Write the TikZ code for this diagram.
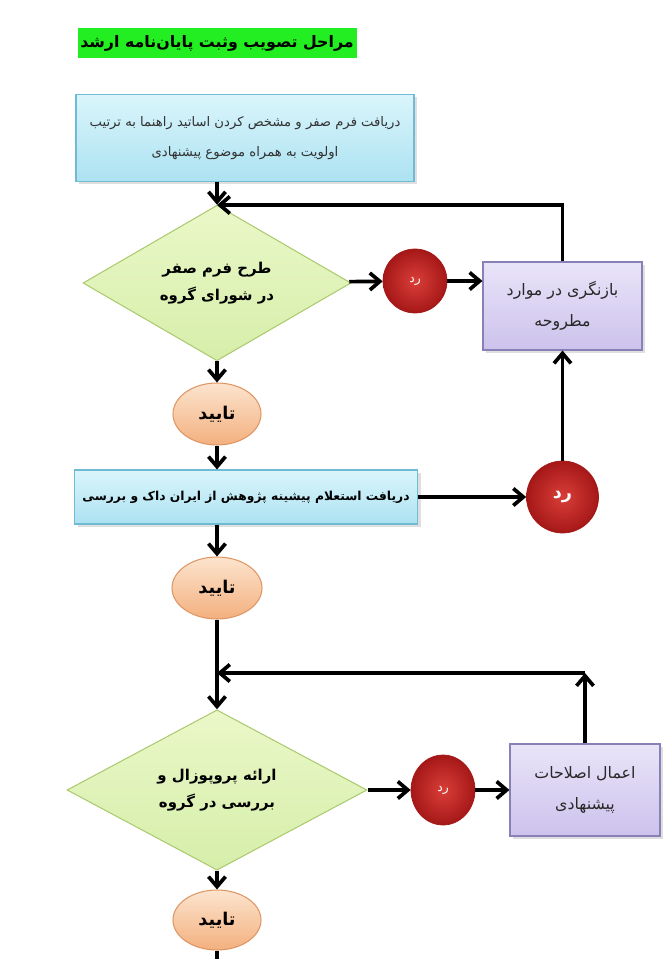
\documentclass[tikz,border=0pt]{standalone}
\usepackage{fontspec}
\newfontfamily\fa[Script=Arabic]{DejaVu Sans}
\TeXXeTstate=1
\usepackage{tikz}
\usetikzlibrary{shapes.geometric}
\usetikzlibrary{arrows.meta}
\usetikzlibrary{shadows}
\newcommand{\fatext}[1]{\beginR#1\endR}
\definecolor{titlegreen}{RGB}{34,238,34}
\definecolor{boxtop}{RGB}{218,245,251}
\definecolor{boxbottom}{RGB}{172,226,242}
\definecolor{boxline}{RGB}{112,186,212}
\definecolor{checktop}{RGB}{234,248,200}
\definecolor{checkbottom}{RGB}{214,238,170}
\definecolor{checkline}{RGB}{172,202,112}
\definecolor{rejectin}{RGB}{218,62,56}
\definecolor{rejectout}{RGB}{165,24,24}
\definecolor{accepttop}{RGB}{252,228,206}
\definecolor{acceptbottom}{RGB}{243,176,126}
\definecolor{acceptline}{RGB}{222,150,100}
\definecolor{revisetop}{RGB}{234,228,249}
\definecolor{revisebottom}{RGB}{204,194,236}
\definecolor{reviseline}{RGB}{138,128,184}
\tikzset{my_flow/.style={->,>={Straight Barb[length=2mm,width=3.4mm]},line width=2.1pt}}
\tikzset{my_shadow/.style={drop shadow={opacity=0.25,shadow xshift=0.6mm,shadow yshift=-0.6mm}}}
\tikzset{my_title/.style={rectangle, fill=titlegreen, inner sep=0pt, minimum width=5.58cm, minimum height=0.6cm, font=\fa\bfseries\fontsize{9}{11}\selectfont}}
\tikzset{my_box/.style={rectangle, draw=boxline, line width=0.6pt, top color=boxtop, bottom color=boxbottom, my_shadow, inner sep=0pt, align=center}}
\tikzset{my_check/.style={diamond, draw=checkline, line width=0.6pt, top color=checktop, bottom color=checkbottom, inner sep=0pt, align=center, font=\fa\bfseries\fontsize{8.5}{15}\selectfont}}
\tikzset{my_reject/.style={ellipse, shading=radial, inner color=rejectin, outer color=rejectout, draw=rejectout, line width=0.4pt, inner sep=0pt, text=white}}
\tikzset{my_accept/.style={ellipse, draw=acceptline, line width=0.6pt, top color=accepttop, bottom color=acceptbottom, inner sep=0pt, minimum width=1.76cm, minimum height=1.24cm, font=\fa\bfseries\fontsize{10}{12}\selectfont}}
\tikzset{my_revise/.style={rectangle, draw=reviseline, line width=0.6pt, top color=revisetop, bottom color=revisebottom, my_shadow, inner sep=0pt, align=center, text={rgb,255:red,40;green,40;blue,40}, font=\fa\fontsize{9}{18}\selectfont}}

\begin{document}
\begin{tikzpicture}[my_flow]
    \useasboundingbox (0,0) rectangle (13.24,-19.18);
    \node[my_title] (title) at (4.34,-0.86) {\fatext{مراحل تصویب وثبت پایان‌نامه ارشد}};

    % first step
    \node[my_box, minimum width=6.76cm, minimum height=1.74cm, text={rgb,255:red,50;green,50;blue,50}, font=\fa\fontsize{7.5}{17}\selectfont] (receive) at (4.90,-2.76)
        {\fatext{دریافت فرم صفر و مشخص کردن اساتید راهنما به ترتیب}\\\fatext{اولویت به همراه موضوع پیشنهادی}};
    \node[my_check, minimum width=5.36cm, minimum height=2.68cm] (council) at (4.34,-5.66)
        {\fatext{طرح فرم صفر}\\\fatext{در شورای گروه}};
    \node[my_reject, minimum width=1.28cm, minimum height=1.28cm, font=\fa\fontsize{7}{9}\selectfont] (reject1) at (8.30,-5.62) {\fatext{رد}};
    \node[my_revise, minimum width=3.18cm, minimum height=1.76cm] (review) at (11.25,-6.12)
        {\fatext{بازنگری در موارد}\\\fatext{مطروحه}};
    \node[my_accept] (accept1) at (4.34,-8.28) {\fatext{تایید}};
    \coordinate (back1) at (4.34,-4.10);

    % second step
    \node[my_box, minimum width=6.86cm, minimum height=1.08cm, font=\fa\bfseries\fontsize{7}{9}\selectfont] (irandoc) at (4.92,-9.94)
        {\fatext{دریافت استعلام پیشینه پژوهش از ایران داک و بررسی}};
    \node[my_reject, minimum width=1.44cm, minimum height=1.44cm, font=\fa\bfseries\fontsize{10}{12}\selectfont] (reject2) at (11.25,-9.94) {\fatext{رد}};
    \node[my_accept, minimum width=1.8cm] (accept2) at (4.34,-11.76) {\fatext{تایید}};

    % third step
    \coordinate (back2) at (4.34,-13.46);
    \node[my_check, minimum width=6.0cm, minimum height=3.2cm] (proposal) at (4.34,-15.80)
        {\fatext{ارائه پروپوزال و}\\\fatext{بررسی در گروه}};
    \node[my_reject, minimum width=1.28cm, minimum height=1.40cm, font=\fa\fontsize{7}{9}\selectfont] (reject3) at (8.86,-15.80) {\fatext{رد}};
    \node[my_revise, minimum width=3.0cm, minimum height=1.84cm] (amend) at (11.70,-15.80)
        {\fatext{اعمال اصلاحات}\\\fatext{پیشنهادی}};
    \node[my_accept, minimum height=1.2cm] (accept3) at (4.34,-18.40) {\fatext{تایید}};
    \coordinate (bottom) at (4.34,-19.18);

    \path
        (receive.south -| council.north) edge (council.north)
        (council) edge (reject1)
        (reject1) edge (reject1 -| review.west)
        (council) edge (accept1)
        (accept1.south) edge (accept1.south |- irandoc.north)
        (irandoc) edge (reject2)
        (reject2) edge (review)
        (irandoc.south -| accept2.north) edge (accept2.north)
        (accept2) edge (proposal)
        (proposal) edge (reject3)
        (reject3) edge (amend)
        (proposal) edge (accept3)
    ;
    \draw (review.north) |- (back1);
    \draw (amend.north) -- (amend.north |- back2);
    \draw (amend.north |- back2) -- (back2);
    \draw[-] (accept3.south) -- (bottom);
\end{tikzpicture}
\end{document}
